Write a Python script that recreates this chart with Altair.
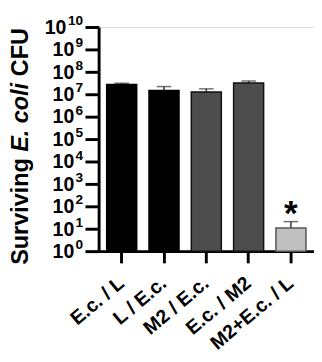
import altair as alt
import pandas as pd

groups = ["E.c. / L", "L / E.c.", "M2 / E.c.", "E.c. / M2", "M2+E.c. / L"]
means = [2.7e7, 1.48e7, 1.26e7, 3.16e7, 10.7]
uppers = [3.1e7, 2.2e7, 1.74e7, 3.9e7, 20.8]
fills = ["#000000", "#000000", "#4d4d4d", "#4d4d4d", "#c0c0c0"]
strokes = ["#000000", "#000000", "#111111", "#111111", "#555555"]
marks = ["", "", "", "", "*"]
exponents = list(range(0, 11))
title_parts = ["Surviving", "E. coli", "CFU"]

FONT = "Liberation Sans"

df = pd.DataFrame({"group": groups, "mean": means, "upper": uppers,
                   "fill": fills, "stroke": strokes, "mark": marks})
ticks = pd.DataFrame({"k": exponents})
ticks["val"] = [10.0 ** k for k in exponents]
ticks["exp"] = [str(k) for k in exponents]
ticks["base"] = ["10"] * len(exponents)

yscale = alt.Scale(type="log", domain=[1, 1e10])
xenc = alt.X("group:N", sort=groups, title=None,
             scale=alt.Scale(paddingInner=0.29, paddingOuter=0.19),
             axis=alt.Axis(labelAngle=-40, labelFont=FONT, labelFontWeight="bold",
                           labelFontSize=20, labelColor="#000", labelAlign="right",
                           labelBaseline="middle", labelPadding=18,
                           tickSize=12, tickWidth=3, tickColor="#000",
                           domainWidth=3, domainColor="#000"))
yaxis = alt.Axis(values=[10.0 ** k for k in exponents], labels=False, title=None,
                 tickSize=14, tickWidth=3, tickColor="#000", domainWidth=3,
                 domainColor="#000", grid=False)

base = alt.Chart(df)
err = base.mark_rule(color="#333", strokeWidth=1.5).encode(
    x=xenc, y=alt.Y("mean:Q", scale=yscale, axis=yaxis), y2="upper:Q")
cap = base.mark_tick(color="#333", size=15, thickness=1.5, orient="horizontal").encode(
    x=xenc, y=alt.Y("upper:Q", scale=yscale))
bars = base.mark_bar(strokeWidth=1.5).encode(
    x=xenc, y=alt.Y("mean:Q", scale=yscale, axis=yaxis), y2=alt.datum(1),
    fill=alt.Fill("fill:N", scale=None), stroke=alt.Stroke("stroke:N", scale=None))
star = base.mark_text(font=FONT, fontWeight="bold", fontSize=36, baseline="alphabetic",
                      dy=3, color="#000").encode(
    x=xenc, y=alt.Y("upper:Q", scale=yscale), text="mark:N")

tbase = alt.Chart(ticks)
lab_base1 = tbase.transform_filter("datum.k < 10").mark_text(
    font=FONT, fontWeight="bold", fontSize=20, align="right", baseline="middle",
    dy=1, color="#000").encode(x=alt.value(-25), y=alt.Y("val:Q", scale=yscale), text="base:N")
lab_base2 = tbase.transform_filter("datum.k >= 10").mark_text(
    font=FONT, fontWeight="bold", fontSize=20, align="right", baseline="middle",
    dy=1, color="#000").encode(x=alt.value(-33), y=alt.Y("val:Q", scale=yscale), text="base:N")
lab_exp = tbase.mark_text(
    font=FONT, fontWeight="bold", fontSize=14, align="right", baseline="alphabetic",
    dy=-2, color="#000").encode(x=alt.value(-16), y=alt.Y("val:Q", scale=yscale), text="exp:N")

tdf = pd.DataFrame({"t": title_parts})
t1 = alt.Chart(tdf).transform_filter(alt.datum.t == title_parts[0]).mark_text(
    font=FONT, fontWeight="bold", fontSize=24, angle=270, align="left", baseline="middle",
    color="#000").encode(text="t:N", x=alt.value(-79), y=alt.value(244))
t2 = alt.Chart(tdf).transform_filter(alt.datum.t == title_parts[1]).mark_text(
    font=FONT, fontWeight="bold", fontStyle="italic", fontSize=24, angle=270, align="left",
    baseline="middle", color="#000").encode(text="t:N", x=alt.value(-79), y=alt.value(128))
t3 = alt.Chart(tdf).transform_filter(alt.datum.t == title_parts[2]).mark_text(
    font=FONT, fontWeight="bold", fontSize=24, angle=270, align="left", baseline="middle",
    color="#000").encode(text="t:N", x=alt.value(-79), y=alt.value(50.5))

chart = alt.layer(err, cap, bars, star, lab_base1, lab_base2, lab_exp, t1, t2, t3).properties(
    width=221, height=230,
    autosize=alt.AutoSizeParams(type="none"),
    padding={"left": 93, "top": 15, "right": 0, "bottom": 100},
).configure_view(stroke=None).configure(background="white")

chart.save("out.html", embed_options={"renderer": "svg", "actions": False})
